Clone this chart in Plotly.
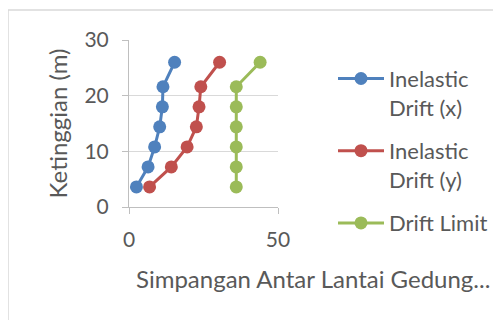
import plotly.graph_objects as go

heights = [3.6, 7.2, 10.8, 14.4, 18.0, 21.6, 26.0]
drift_x = [2.5, 6.4, 8.6, 10.3, 11.2, 11.4, 15.3]
drift_y = [6.9, 14.2, 19.5, 22.6, 23.5, 24.1, 30.4]
drift_limit = [36, 36, 36, 36, 36, 36, 44]

series_names = ["Inelastic<br>Drift (x)", "Inelastic<br>Drift (y)", "Drift Limit"]
series_values = [drift_x, drift_y, drift_limit]
colors = ["#4F81BD", "#C0504D", "#9BBB59"]

FONT = "Lato"
TXT = "#595959"

fig = go.Figure()
for i, (name, vals, c) in enumerate(zip(series_names, series_values, colors)):
    fig.add_trace(go.Scatter(
        x=vals, y=heights, name=name, mode="lines+markers",
        line=dict(color=c, width=3),
        marker=dict(color=c, size=13),
        legendgroup=f"g{i}",
    ))

fig.update_layout(
    width=501, height=320,
    margin=dict(l=121, r=231, t=32, b=121, autoexpand=False),
    paper_bgcolor="white", plot_bgcolor="white",
    font=dict(family=FONT, size=21, color=TXT),
    showlegend=True,
    legend=dict(
        x=204 / 149, xanchor="left", y=0.894, yanchor="top",
        valign="top", tracegroupgap=12, itemwidth=46, maxheight=320,
        font=dict(family=FONT, size=22, color=TXT),
        bgcolor="rgba(0,0,0,0)",
    ),
    xaxis=dict(
        range=[0, 50], tickvals=[0, 50], ticktext=["0", "50"],
        showgrid=False, zeroline=False,
        showline=True, linecolor="#BFBFBF", linewidth=1,
        ticks="outside", ticklen=6, tickcolor="#BFBFBF",
        ticklabelstandoff=8,
        tickfont=dict(family=FONT, size=21, color=TXT),
    ),
    yaxis=dict(
        range=[0, 30], tickvals=[0, 10, 20, 30],
        showgrid=True, gridcolor="#D9D9D9", gridwidth=1,
        zeroline=False,
        showline=True, linecolor="#BFBFBF", linewidth=1,
        ticks="outside", ticklen=6, tickcolor="#BFBFBF",
        ticklabelstandoff=9,
        tickfont=dict(family=FONT, size=21, color=TXT),
        title=dict(text="Ketinggian (m)", standoff=10,
                   font=dict(family=FONT, size=24, color=TXT)),
    ),
    shapes=[dict(type="rect", xref="paper", yref="paper",
                 x0=-121 / 149, x1=400 / 149, y0=-0.9, y1=1 + 30 / 167,
                 line=dict(color="#D9D9D9", width=1.5), layer="below")],
    annotations=[dict(text="Simpangan Antar Lantai Gedung...",
                      xref="paper", yref="paper",
                      x=5 / 149, y=-71 / 167, xanchor="left", yanchor="middle",
                      showarrow=False,
                      font=dict(family=FONT, size=24, color=TXT))],
)

fig.write_html("out.html")
